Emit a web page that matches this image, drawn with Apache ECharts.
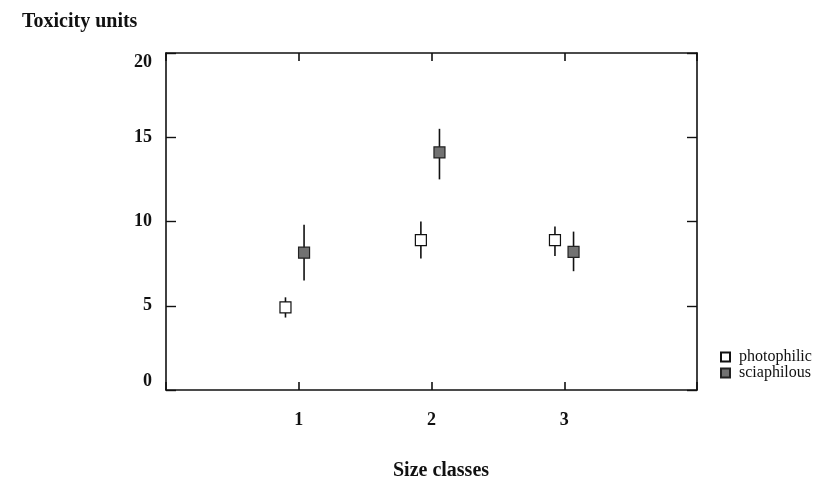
<!DOCTYPE html>
<html>
<head>
<meta charset="utf-8">
<script src="https://cdn.jsdelivr.net/npm/echarts@6/dist/echarts.min.js"></script>
<style>
  html, body { margin: 0; padding: 0; background: #fff; }
  #chart { width: 839px; height: 481px; }
</style>
</head>
<body>
<div id="chart"></div>
<script>
// size classes shown on the x axis
const sizeClasses = [1, 2, 3];
const yTicks = [0, 5, 10, 15, 20];

// photophilic: x position (slightly left of class), mean, low, high
const photoX = [0.9, 1.92, 2.93];
const photoMean = [4.9, 8.9, 8.9];
const photoLow = [4.3, 7.8, 7.95];
const photoHigh = [5.5, 10.0, 9.7];

// sciaphilous: x position (slightly right of class), mean, low, high
const sciaX = [1.04, 2.06, 3.07];
const sciaMean = [8.15, 14.1, 8.2];
const sciaLow = [6.5, 12.5, 7.05];
const sciaHigh = [9.8, 15.5, 9.4];

const font = "'Liberation Serif', 'DejaVu Serif', serif";

function errData(xs, lo, hi) {
  return xs.map((x, i) => [x, lo[i], hi[i]]);
}
function ptData(xs, m) {
  return xs.map((x, i) => [x, m[i]]);
}

// vertical error bar from low to high
function renderErr(params, api) {
  const a = api.coord([api.value(0), api.value(1)]);
  const b = api.coord([api.value(0), api.value(2)]);
  return {
    type: 'line',
    shape: { x1: a[0], y1: a[1], x2: b[0], y2: b[1] },
    style: { stroke: '#111', lineWidth: 1.6 }
  };
}

const chart = echarts.init(document.getElementById('chart'), null, { renderer: 'canvas' });

const frameLine = { show: true, onZero: false, lineStyle: { color: '#111', width: 1.6 } };

chart.setOption({
  animation: false,
  backgroundColor: '#fff',
  textStyle: { fontFamily: font },
  title: [
    { text: 'Toxicity units', left: 17, top: 7,
      textStyle: { fontFamily: font, fontSize: 20, fontWeight: 'bold', color: '#111' } },
    { text: 'Size classes', left: 436, top: 456, textAlign: 'center',
      textStyle: { fontFamily: font, fontSize: 20, fontWeight: 'bold', color: '#111' } }
  ],
  legend: {
    orient: 'vertical',
    left: 715,
    top: 344,
    itemWidth: 9,
    itemHeight: 9,
    itemGap: 0,
    textStyle: { fontFamily: font, fontSize: 16, lineHeight: 14, color: '#111', padding: [0, 0, 0, 4] },
    data: ['photophilic', 'sciaphilous']
  },
  grid: { left: 166, right: 142, top: 53, bottom: 91 },
  xAxis: [
    {
      type: 'value', min: 0, max: 4, interval: 1,
      axisLine: frameLine,
      axisTick: { inside: true, length: 8, lineStyle: { color: '#111', width: 1.6 } },
      axisLabel: {
        margin: 21, fontFamily: font, fontSize: 18, fontWeight: 'bold', color: '#111',
        formatter: v => sizeClasses.includes(v) ? String(v) : ''
      },
      splitLine: { show: false }
    },
    {
      type: 'value', min: 0, max: 4, interval: 1, position: 'top',
      axisLine: frameLine,
      axisTick: { inside: true, length: 8, lineStyle: { color: '#111', width: 1.6 } },
      axisLabel: { show: false },
      splitLine: { show: false }
    }
  ],
  yAxis: [
    {
      type: 'value', min: yTicks[0], max: yTicks[yTicks.length - 1], interval: 5,
      axisLine: frameLine,
      axisTick: { inside: true, length: 10, lineStyle: { color: '#111', width: 1.4 } },
      axisLabel: {
        margin: 14, fontFamily: font, fontSize: 18, fontWeight: 'bold', color: '#111',
        verticalAlignMinLabel: 'bottom', verticalAlignMaxLabel: 'top'
      },
      splitLine: { show: false }
    },
    {
      type: 'value', min: 0, max: 20, interval: 5, position: 'right',
      axisLine: frameLine,
      axisTick: { inside: true, length: 10, lineStyle: { color: '#111', width: 1.4 } },
      axisLabel: { show: false },
      splitLine: { show: false }
    }
  ],
  series: [
    {
      type: 'custom', renderItem: renderErr, silent: true,
      encode: { x: 0, y: [1, 2] },
      data: errData(photoX, photoLow, photoHigh), z: 2
    },
    {
      type: 'custom', renderItem: renderErr, silent: true,
      encode: { x: 0, y: [1, 2] },
      data: errData(sciaX, sciaLow, sciaHigh), z: 2
    },
    {
      name: 'photophilic', type: 'scatter', symbol: 'rect', symbolSize: [11, 11],
      itemStyle: { color: '#fff', borderColor: '#111', borderWidth: 1.2, opacity: 1 },
      data: ptData(photoX, photoMean), z: 5
    },
    {
      name: 'sciaphilous', type: 'scatter', symbol: 'rect', symbolSize: [11, 11],
      itemStyle: { color: '#727272', borderColor: '#222', borderWidth: 1.2, opacity: 1 },
      data: ptData(sciaX, sciaMean), z: 5
    }
  ]
});
</script>
</body>
</html>
